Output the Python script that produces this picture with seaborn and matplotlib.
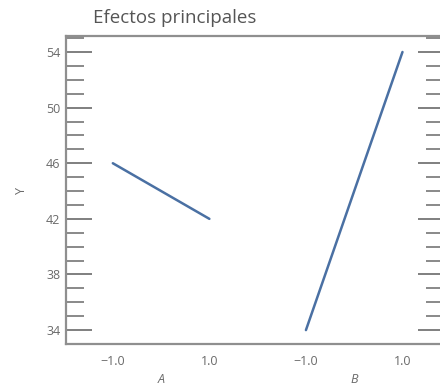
import matplotlib
matplotlib.use("Agg")
import matplotlib.pyplot as plt
from matplotlib.ticker import MultipleLocator
import numpy as np
import pandas as pd
import seaborn as sns

# Main effects: mean response at the low/high level of each factor
factors = ["A", "B"]
levels = [-1.0, 1.0]
means_A = [46, 42]
means_B = [34, 54]
level_labels = ["\u22121.0", "1.0", "\u22121.0", "1.0"]

rows = []
for fi, (name, vals) in enumerate(zip(factors, [means_A, means_B])):
    for li, (lv, v) in enumerate(zip(levels, vals)):
        rows.append({"factor": name, "level": lv, "pos": fi * len(levels) + li, "Y": v})
df = pd.DataFrame(rows)

sns.set_theme(style="white")
plt.rcParams["font.family"] = ["Open Sans", "DejaVu Sans"]

line_color = "#4a70a3"
text_color = "#6a6a6a"
spine_color = "#8f8f8f"
tick_color = "#6a6a6a"

fig = plt.figure(figsize=(4.4, 3.9), dpi=100)
ax = fig.add_axes([66 / 440, 46 / 390, 378 / 440, 308 / 390])

sns.lineplot(data=df, x="pos", y="Y", units="factor", estimator=None,
             color=line_color, linewidth=1.8, ax=ax)

ax.set_xlim(-0.485, 3.43)
ax.set_ylim(33.0, 55.15)
ax.set_xticks(df["pos"].tolist())
ax.set_xticklabels(level_labels)
ax.yaxis.set_major_locator(MultipleLocator(4))
ax.yaxis.set_minor_locator(MultipleLocator(1))
ax.set_yticks([34, 38, 42, 46, 50, 54])

ax.tick_params(axis="x", length=0, pad=8, labelsize=9, labelcolor=text_color)
ax.tick_params(axis="y", which="major", direction="in", length=19, width=1.2,
               color=tick_color, left=True, right=True, labelsize=9,
               labelcolor=text_color, pad=4)
ax.tick_params(axis="y", which="minor", direction="in", length=13, width=1.1,
               color=tick_color, left=True, right=True)

for s in ax.spines.values():
    s.set_color(spine_color)
    s.set_linewidth(1.6)

ax.set_xlabel("")
ax.set_ylabel("Y", color=text_color, fontsize=9, labelpad=13)

# Factor names under each pair of levels
for fi, name in enumerate(factors):
    center = fi * len(levels) + (len(levels) - 1) / 2
    ax.text(center, -0.115, name, transform=ax.get_xaxis_transform(),
            ha="center", va="center", fontsize=9, style="italic", color=text_color)

fig.text(93 / 440, 1 - 18 / 390, "Efectos principales", ha="left", va="center",
         fontsize=13.5, color="#555555")

fig.savefig("out.png", dpi=100)
